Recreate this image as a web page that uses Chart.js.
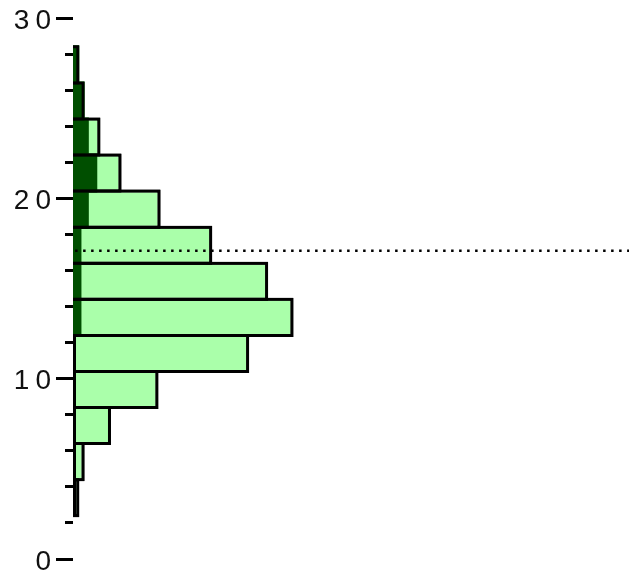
<!DOCTYPE html>
<html>
<head>
<meta charset="utf-8">
<script src="https://cdn.jsdelivr.net/npm/chart.js@4/dist/chart.umd.min.js"></script>
<style>
  html, body { margin: 0; padding: 0; background: #ffffff; }
  #wrap { width: 629px; height: 573px; }
</style>
</head>
<body>
<div id="wrap"><canvas id="hist" width="629" height="573"></canvas></div>
<script>
// Bin centres (bins are 2 units tall) and counts per bin
const binCenters = [3.4, 5.4, 7.4, 9.4, 11.4, 13.4, 15.4, 17.4, 19.4, 21.4, 23.4, 25.4, 27.4];
const totalCounts = [6, 11, 36, 81, 167, 209, 185, 132, 83, 46, 26, 11, 6];
const subsetCounts = [0, 0, 0, 0, 0, 8, 8, 8, 15, 23, 15, 11, 6];
// Reference level drawn as a dotted line
const referenceLevel = 17.1;
const referenceSpan = [2, 527];
// Value-axis ticks
const tickStep = 2;
const labelledTicks = [0, 10, 20, 30];
const axisRange = [0, 30];
const countRange = [0, 527];

const toPoints = (vals) => vals.map((v, i) => ({ x: v, y: binCenters[i] }));

// Wider digit spacing for the axis labels
const spacedLabels = {
  id: 'spacedLabels',
  beforeDraw(chart) { chart.ctx.letterSpacing = '6px'; },
  afterDraw(chart) { chart.ctx.letterSpacing = '0px'; }
};

new Chart(document.getElementById('hist'), {
  type: 'bar',
  data: {
    datasets: [
      {
        label: 'All',
        data: toPoints(totalCounts),
        backgroundColor: '#aaffaa',
        borderColor: '#000000',
        borderWidth: 3,
        borderSkipped: false,
        grouped: false,
        categoryPercentage: 1.083,
        barPercentage: 1,
        order: 3
      },
      {
        label: 'Subset',
        data: toPoints(subsetCounts),
        backgroundColor: '#004f00',
        borderWidth: 0,
        grouped: false,
        categoryPercentage: 1.083,
        barPercentage: 1,
        order: 2
      },
      {
        label: 'Outline',
        data: toPoints(totalCounts),
        backgroundColor: 'rgba(0,0,0,0)',
        borderColor: '#000000',
        borderWidth: 3,
        borderSkipped: 'left',
        grouped: false,
        categoryPercentage: 1.083,
        barPercentage: 1,
        order: 1
      },
      {
        type: 'line',
        label: 'Level',
        data: referenceSpan.map(x => ({ x: x, y: referenceLevel })),
        borderColor: '#000000',
        borderWidth: 2.5,
        borderDash: [2.5, 5.5],
        borderCapStyle: 'butt',
        pointRadius: 0,
        fill: false,
        order: 0
      }
    ]
  },
  options: {
    indexAxis: 'y',
    responsive: false,
    animation: false,
    devicePixelRatio: 1,
    layout: { padding: { top: 18, bottom: 14, left: 0, right: 0 } },
    plugins: {
      legend: { display: false },
      tooltip: { enabled: false }
    },
    scales: {
      x: {
        type: 'linear',
        min: countRange[0],
        max: countRange[1],
        display: false
      },
      y: {
        type: 'linear',
        min: axisRange[0],
        max: axisRange[1],
        offset: false,
        border: { display: false },
        grid: {
          offset: false,
          drawOnChartArea: false,
          drawTicks: true,
          tickLength: 17,
          tickWidth: 3,
          tickColor: '#000000',
          tickBorderDash: (ctx) => labelledTicks.includes(ctx.tick && ctx.tick.value) ? [] : [8, 9],
          tickBorderDashOffset: (ctx) => labelledTicks.includes(ctx.tick && ctx.tick.value) ? 0 : 8
        },
        ticks: {
          stepSize: tickStep,
          autoSkip: false,
          padding: -1,
          labelOffset: 3,
          color: '#111111',
          font: { family: 'Liberation Sans', size: 28, lineHeight: 1 },
          callback: (v) => labelledTicks.includes(v) ? String(v) : ''
        },
        afterFit(scale) { scale.width = 73; }
      }
    }
  },
  plugins: [spacedLabels]
});
</script>
</body>
</html>
